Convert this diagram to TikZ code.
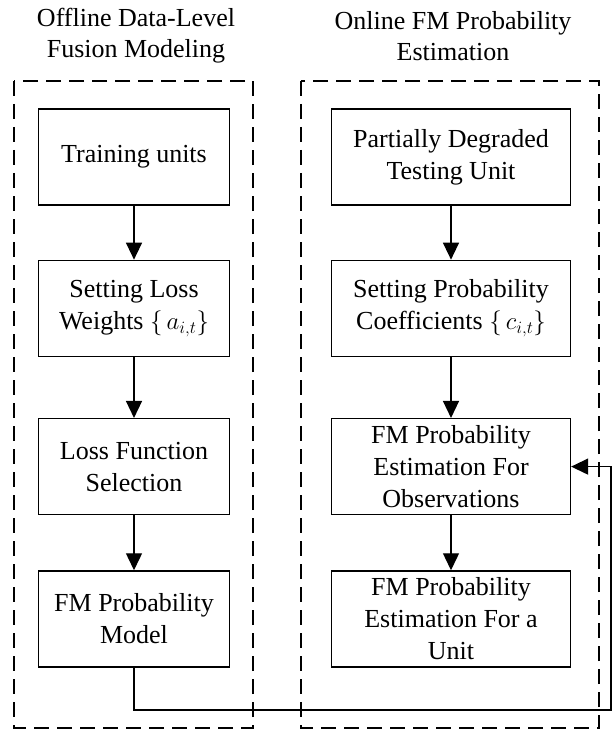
\documentclass[tikz,border=0pt]{standalone}
\usepackage{fontspec}
\usepackage{amsmath}
\setmainfont{Liberation Serif}
\usetikzlibrary{
  arrows.meta,
  positioning,
  calc
}
\tikzset{
  fmnode/.style={
    draw, line width=1.3pt, minimum height=96pt, align=center,
    font=\fontsize{26}{32}\selectfont, inner sep=2pt
  },
  offbox/.style={fmnode, minimum width=191pt},
  onbox/.style={fmnode, minimum width=239pt},
  zone/.style={draw, line width=1.6pt, dash pattern=on 15pt off 8pt},
  title/.style={font=\fontsize{26}{31}\selectfont, align=center},
  flow/.style={-{Triangle[length=17pt, width=16pt]}, line width=1.4pt},
  fbline/.style={line width=1.4pt}
}

\begin{document}
\begin{tikzpicture}[x=1pt, y=-1pt, node distance=54pt]
  \useasboundingbox (0,0) rectangle (613,730);
  % column titles
  \node[title] (toff) at (136,36) {Offline Data-Level\\Fusion Modeling};
  \node[title] (ton) at (453,36) {Online FM Probability\\Estimation};
  % dashed zones
  \draw[zone] (14,81) rectangle (253,728);
  \draw[zone] (301,81) rectangle (599,728);
  % offline column
  \node[offbox] (m1) at (134,157) {Training units};
  \node[offbox, below=of m1] (m2) {Setting Loss\\Weights $\{\,a_{i,t}\}$};
  \node[offbox, below=61pt of m2] (m3) {Loss Function\\Selection};
  \node[offbox, below=55pt of m3] (m4) {FM Probability\\Model};
  % online column
  \node[onbox] (o1) at (451,157) {Partially Degraded\\Testing Unit};
  \node[onbox, below=of o1] (o2) {Setting Probability\\Coefficients $\{\,c_{i,t}\}$};
  \node[onbox, below=61pt of o2] (o3) {FM Probability\\Estimation For\\Observations};
  \node[onbox, below=55pt of o3] (o4) {FM Probability\\Estimation For a\\Unit};
  \draw[flow] (m1) -- (m2);
  \draw[flow] (m2) -- (m3);
  \draw[flow] (m3) -- (m4);
  \draw[flow] (o1) -- (o2);
  \draw[flow] (o2) -- (o3);
  \draw[flow] (o3) -- (o4);
  % model feeds the online estimation
  \coordinate (fb) at (611,710);
  \draw[flow] (m4.south) |- (fb) |- (o3.east);
\end{tikzpicture}
\end{document}
